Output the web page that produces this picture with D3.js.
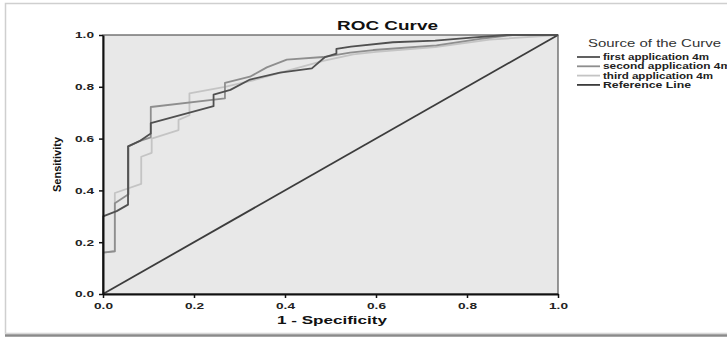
<!DOCTYPE html>
<html>
<head>
<meta charset="utf-8">
<script src="https://cdn.jsdelivr.net/npm/d3@7"></script>
<style>
  body { margin: 0; background: #fff; }
  svg { display: block; font-family: "Liberation Sans", Arial, sans-serif; }
</style>
</head>
<body>
<div class="chart"></div>
<script>
const svgWidth = 727
const svgHeight = 338

let margin = { top: 35, right: 169, bottom: 44, left: 103 }
let width = svgWidth - margin.left - margin.right
let height = svgHeight - margin.top - margin.bottom

// ROC points: [1 - specificity, sensitivity]
const firstApp = [[0, 0], [0, 0.30], [0.03, 0.32], [0.055, 0.345], [0.055, 0.57], [0.08, 0.59], [0.105, 0.62],
  [0.105, 0.66], [0.243, 0.725], [0.243, 0.77], [0.28, 0.788], [0.323, 0.828], [0.389, 0.855], [0.459, 0.871],
  [0.488, 0.915], [0.513, 0.928], [0.513, 0.946], [0.545, 0.955], [0.637, 0.972], [0.73, 0.978], [0.81, 0.99],
  [0.887, 1], [1, 1]]
const secondApp = [[0, 0], [0, 0.16], [0.026, 0.165], [0.026, 0.35], [0.056, 0.385], [0.056, 0.57], [0.08, 0.59],
  [0.105, 0.605], [0.105, 0.722], [0.268, 0.755], [0.268, 0.815], [0.323, 0.839], [0.36, 0.875], [0.404, 0.905],
  [0.484, 0.915], [0.543, 0.932], [0.594, 0.942], [0.733, 0.96], [0.829, 0.985], [0.9, 1], [1, 1]]
const thirdApp = [[0, 0], [0, 0.16], [0.026, 0.165], [0.026, 0.39], [0.084, 0.425], [0.084, 0.53], [0.107, 0.545],
  [0.107, 0.6], [0.166, 0.633], [0.166, 0.672], [0.19, 0.69], [0.19, 0.775], [0.268, 0.8], [0.33, 0.825],
  [0.4, 0.86], [0.484, 0.9], [0.55, 0.925], [0.6, 0.935], [0.73, 0.953], [0.85, 0.982], [1, 1]]
const refLine = [[0, 0], [1, 1]]

const seriesNames = ["first application 4m", "second application 4m", "third application 4m", "Reference Line"]
const tickValues = [0, 0.2, 0.4, 0.6, 0.8, 1.0]

const colors = ["#505050", "#8e8e8e", "#c4c4c4", "#3c3c3c"]
const allSeries = [firstApp, secondApp, thirdApp, refLine]

// the source picture is stretched sideways, so text is widened to match
function stretch(sel, w) {
  sel.attr("textLength", w).attr("lengthAdjust", "spacingAndGlyphs")
}

let svg = d3.select(".chart").append("svg")
  .attr("width", svgWidth)
  .attr("height", svgHeight)

// picture frame with a soft shadow along the bottom
svg.append("rect")
  .attr("x", 5.5).attr("y", 3.5)
  .attr("width", svgWidth).attr("height", 330)
  .attr("fill", "#fff").attr("stroke", "#cfcfcf").attr("stroke-width", 1.5)
svg.append("line")
  .attr("x1", 5).attr("x2", svgWidth).attr("y1", 335.5).attr("y2", 335.5)
  .attr("stroke", "#8a8a8a").attr("stroke-width", 2.5)
svg.append("line")
  .attr("x1", 5).attr("x2", svgWidth).attr("y1", 333.5).attr("y2", 333.5)
  .attr("stroke", "#d8d8d8").attr("stroke-width", 1)

let chartGroup = svg.append("g")
  .attr("transform", `translate(${margin.left}, ${margin.top})`)

let x = d3.scaleLinear().domain([0, 1]).range([0, width])
let y = d3.scaleLinear().domain([0, 1]).range([height, 0])

chartGroup.append("rect")
  .attr("width", width).attr("height", height)
  .attr("fill", "#e8e8e8")

let line = d3.line().x(d => x(d[0])).y(d => y(d[1]))

// draw light to dark so the darker curves sit on top
;[2, 1, 0, 3].forEach(i => {
  chartGroup.append("path")
    .datum(allSeries[i])
    .attr("d", line)
    .attr("fill", "none")
    .attr("stroke", colors[i])
    .attr("stroke-width", 1.8)
    .attr("stroke-linejoin", "round")
})

// box around the plot
chartGroup.append("rect")
  .attr("width", width).attr("height", height)
  .attr("fill", "none").attr("stroke", "#555").attr("stroke-width", 1.2)

let bottomAxis = d3.axisBottom(x).tickValues(tickValues).tickFormat(d3.format(".1f")).tickSize(4).tickSizeOuter(0)
let leftAxis = d3.axisLeft(y).tickValues(tickValues).tickFormat(d3.format(".1f")).tickSize(4).tickSizeOuter(0)

let xAxis = chartGroup.append("g")
  .attr("transform", `translate(0, ${height})`)
  .call(bottomAxis)
let yAxis = chartGroup.append("g").call(leftAxis)

;[xAxis, yAxis].forEach(g => {
  g.select(".domain").attr("stroke", "#111").attr("stroke-width", 2)
  g.selectAll(".tick line").attr("stroke", "#111").attr("stroke-width", 1.5)
  g.selectAll(".tick text")
    .attr("fill", "#222")
    .attr("font-size", 9)
    .attr("font-weight", "bold")
    .call(stretch, 19)
})
xAxis.selectAll(".tick text").attr("dy", "0.85em")
yAxis.selectAll(".tick text").attr("dx", "-2px")

// titles
svg.append("text")
  .attr("x", 337).attr("y", 30)
  .attr("font-size", 13).attr("font-weight", "bold").attr("fill", "#111")
  .text("ROC Curve")
  .call(stretch, 101)

svg.append("text")
  .attr("x", 277).attr("y", 324)
  .attr("font-size", 11.5).attr("font-weight", "bold").attr("fill", "#111")
  .text("1 - Specificity")
  .call(stretch, 110)

svg.append("text")
  .attr("transform", `translate(61, ${margin.top + height / 2}) rotate(-90)`)
  .attr("text-anchor", "middle")
  .attr("font-size", 11).attr("font-weight", "bold").attr("fill", "#111")
  .text("Sensitivity")

// legend
let legend = svg.append("g").attr("transform", "translate(577, 0)")
legend.append("text")
  .attr("x", 11).attr("y", 47)
  .attr("font-size", 11).attr("fill", "#333")
  .text("Source of the Curve")
  .call(stretch, 133)

const legendWidths = [106, 128, 110, 88]
seriesNames.forEach((name, i) => {
  let ly = 57 + i * 9.3
  legend.append("line")
    .attr("x1", 0).attr("x2", 23).attr("y1", ly).attr("y2", ly)
    .attr("stroke", colors[i]).attr("stroke-width", 1.8)
  legend.append("text")
    .attr("x", 26).attr("y", ly + 3)
    .attr("font-size", 8.5).attr("font-weight", "bold").attr("fill", "#222")
    .text(name)
    .call(stretch, legendWidths[i])
})
</script>
</body>
</html>
